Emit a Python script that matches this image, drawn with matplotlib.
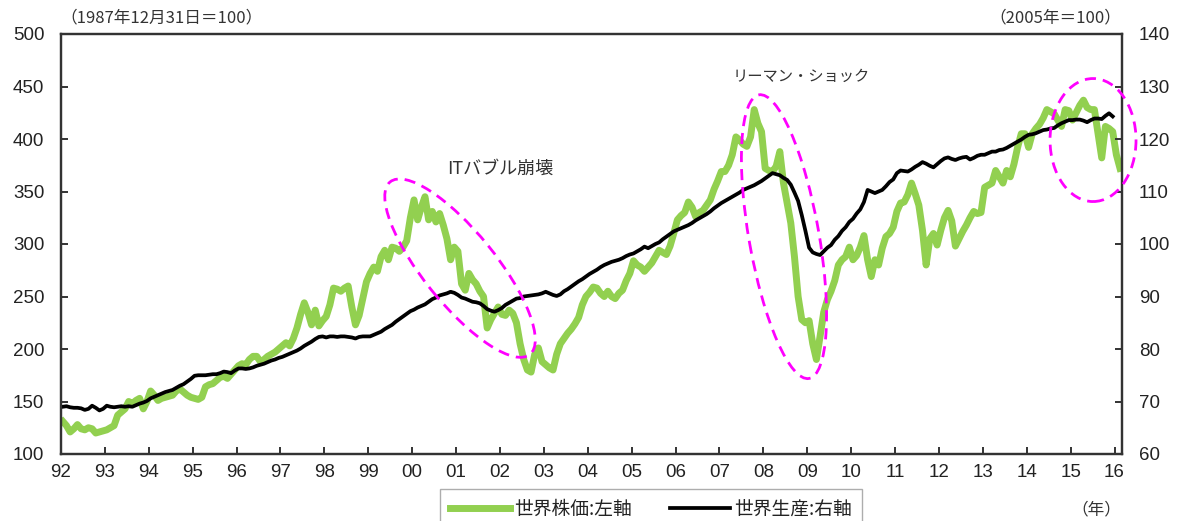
import numpy as np
import matplotlib
matplotlib.use("Agg")
import matplotlib.pyplot as plt
from matplotlib.patches import Ellipse
from matplotlib.transforms import IdentityTransform

plt.rcParams['font.family'] = ['Liberation Sans', 'Noto Sans CJK JP', 'DejaVu Sans']
JP = ['Noto Sans CJK JP', 'DejaVu Sans']

# World stock price index (1987/12/31 = 100), monthly from Jan 1992 -> left axis
stock = [
    131, 127, 121, 124, 128, 124, 123, 125, 124, 120, 121, 122,   # 1992
    123, 125, 127, 137, 140, 143, 150, 148, 151, 153, 143, 150,   # 1993
    160, 156, 151, 153, 154, 155, 156, 160, 162, 159, 156, 154,   # 1994
    153, 152, 154, 164, 166, 167, 170, 173, 174, 172, 176, 180,   # 1995
    184, 186, 185, 190, 193, 193, 188, 190, 193, 195, 197, 200,   # 1996
    203, 206, 203, 210, 220, 233, 244, 235, 223, 237, 222, 227,   # 1997
    231, 242, 258, 257, 255, 258, 260, 240, 223, 232, 248, 264,   # 1998
    272, 278, 274, 288, 294, 285, 297, 296, 293, 297, 303, 325,   # 1999
    342, 323, 335, 345, 323, 331, 321, 329, 318, 305, 285, 297,   # 2000
    293, 262, 256, 272, 266, 262, 255, 250, 220, 228, 234, 240,   # 2001
    233, 232, 237, 234, 225, 205, 190, 180, 178, 195, 201, 188,   # 2002
    185, 182, 180, 195, 205, 210, 215, 219, 224, 230, 242, 250,   # 2003
    254, 259, 258, 253, 250, 255, 250, 248, 253, 256, 265, 272,   # 2004
    284, 280, 278, 274, 278, 282, 288, 294, 292, 290, 298, 310,   # 2005
    323, 327, 330, 340, 335, 326, 330, 332, 337, 342, 352, 360,   # 2006
    369, 369, 375, 385, 402, 399, 395, 393, 402, 428, 415, 407,   # 2007
    372, 370, 369, 374, 388, 358, 339, 320, 288, 250, 228, 225,   # 2008
    227, 205, 190, 212, 235, 247, 255, 265, 280, 285, 288, 297,   # 2009
    285, 289, 297, 308, 285, 269, 285, 280, 296, 307, 310, 316,   # 2010
    331, 339, 340, 347, 358, 348, 337, 313, 280, 305, 310, 299,   # 2011
    313, 325, 332, 322, 298, 305, 312, 318, 325, 331, 329, 330,   # 2012
    354, 356, 358, 370, 364, 358, 370, 364, 376, 392, 405, 405,   # 2013
    392, 405, 410, 414, 420, 428, 426, 424, 418, 412, 428, 427,   # 2014
    418, 425, 432, 437, 430, 428, 428, 405, 382, 412, 410, 407,   # 2015
    385, 372,                                                     # 2016
]

# World industrial production (2005 = 100), monthly from Jan 1992 -> right axis
production = [
    69.0, 69.1, 68.9, 68.8, 68.8, 68.7, 68.4, 68.6, 69.2, 68.8, 68.3, 68.6,   # 1992
    69.2, 69.0, 68.9, 69.0, 69.1, 69.0, 69.1, 69.0, 69.3, 69.6, 69.8, 70.1,   # 1993
    70.6, 70.9, 71.2, 71.5, 71.8, 72.0, 72.2, 72.6, 73.0, 73.3, 73.8, 74.3,   # 1994
    74.9, 75.0, 75.0, 75.0, 75.1, 75.2, 75.2, 75.4, 75.7, 75.6, 75.4, 75.9,   # 1995
    76.3, 76.3, 76.2, 76.3, 76.5, 76.8, 77.0, 77.2, 77.5, 77.8, 78.0, 78.3,   # 1996
    78.5, 78.8, 79.1, 79.4, 79.7, 80.1, 80.6, 81.0, 81.4, 81.9, 82.3, 82.4,   # 1997
    82.2, 82.4, 82.4, 82.3, 82.4, 82.4, 82.3, 82.2, 82.0, 82.3, 82.4, 82.4,   # 1998
    82.4, 82.7, 83.0, 83.3, 83.8, 84.2, 84.6, 85.2, 85.7, 86.2, 86.7, 87.2,   # 1999
    87.5, 87.9, 88.2, 88.5, 89.0, 89.5, 89.8, 90.2, 90.4, 90.6, 90.9, 90.7,   # 2000
    90.3, 89.8, 89.6, 89.3, 89.0, 88.9, 88.7, 88.2, 87.6, 87.3, 87.1, 87.4,   # 2001
    87.8, 88.4, 88.8, 89.2, 89.6, 89.7, 90.0, 90.1, 90.2, 90.3, 90.4, 90.6,   # 2002
    90.9, 90.6, 90.3, 90.1, 90.4, 91.0, 91.4, 91.9, 92.4, 92.9, 93.3, 93.8,   # 2003
    94.3, 94.7, 95.1, 95.6, 96.0, 96.3, 96.6, 96.8, 97.0, 97.3, 97.7, 98.0,   # 2004
    98.2, 98.6, 99.0, 99.5, 99.2, 99.6, 100.0, 100.3, 100.9, 101.4, 101.9, 102.4,   # 2005
    102.7, 103.0, 103.3, 103.6, 104.0, 104.5, 104.9, 105.3, 105.7, 106.2, 106.8, 107.3,   # 2006
    107.8, 108.2, 108.6, 109.0, 109.4, 109.8, 110.3, 110.6, 110.9, 111.2, 111.6, 112.0,   # 2007
    112.5, 113.0, 113.5, 113.3, 113.1, 112.6, 112.2, 111.3, 109.8, 108.2, 105.5, 102.5,   # 2008
    99.3, 98.4, 98.1, 97.9, 98.6, 99.3, 99.8, 100.8, 101.5, 102.5, 103.2, 104.2,   # 2009
    104.8, 105.8, 106.6, 108.0, 110.3, 110.0, 109.7, 110.0, 110.3, 111.0, 111.8, 112.3,   # 2010
    113.5, 114.0, 113.9, 113.8, 114.2, 114.7, 115.1, 115.6, 115.3, 114.9, 114.6, 115.2,   # 2011
    115.8, 116.3, 116.5, 116.2, 116.0, 116.3, 116.5, 116.6, 116.1, 116.4, 116.8, 117.0,   # 2012
    117.0, 117.3, 117.6, 117.6, 117.9, 118.0, 118.3, 118.7, 119.1, 119.5, 119.9, 120.4,   # 2013
    120.8, 120.9, 121.1, 121.4, 121.7, 121.8, 122.0, 122.1, 122.6, 123.0, 123.3, 123.6,   # 2014
    123.6, 123.7, 123.7, 123.5, 123.2, 123.6, 123.9, 123.9, 123.8, 124.4, 124.9, 124.3,   # 2015
]

years = list(range(1992, 2017))
year_labels = [f"{y % 100:02d}" for y in years]

x_stock = 1992 + (np.arange(len(stock)) + 0.5) / 12
x_prod = 1992 + (np.arange(len(production)) + 0.5) / 12

green = "#92D050"
dark = "#333333"

fig = plt.figure(figsize=(11.79, 5.21), dpi=100)
ax = fig.add_axes([61 / 1179, 1 - 454 / 521, (1122 - 61) / 1179, (454 - 34) / 521])
ax2 = ax.twinx()

l1, = ax.plot(x_stock, stock, color=green, lw=5, solid_joinstyle="round",
              label="世界株価:左軸")
l2, = ax2.plot(x_prod, production, color="black", lw=2.7, label="世界生産:右軸")

ax.set_xlim(1992, 2016.17)
ax.set_ylim(100, 500)
ax2.set_ylim(60, 140)
ax.set_yticks(range(100, 501, 50))
ax2.set_yticks(range(60, 141, 10))
ax.set_xticks(years)
ax.set_xticklabels(year_labels)

for a in (ax, ax2):
    for s in a.spines.values():
        s.set_color(dark)
        s.set_linewidth(1.6)
ax.tick_params(axis="both", direction="in", length=5, width=1.4, color=dark,
               labelsize=13.5, labelcolor="#222222")
ax.tick_params(axis="x", pad=7)
ax.tick_params(axis="y", pad=12)
ax2.tick_params(axis="y", direction="in", length=5, width=1.4, color=dark,
                labelsize=13.5, labelcolor="#222222", pad=12)

# unit notes
fig.text(60 / 1179, 1 - 18 / 521, "（1987年12月31日＝100）", family=JP, fontsize=12,
         color=dark, va="center", ha="left")
fig.text(1121 / 1179, 1 - 18 / 521, "（2005年＝100）", family=JP, fontsize=12,
         color=dark, va="center", ha="right")
fig.text(1121 / 1179, 1 - 510 / 521, "（年）", family=JP, fontsize=12,
         color=dark, va="center", ha="right")

# event labels
ax.text(2002.0, 372, "ITバブル崩壊", family=JP, fontsize=13, color=dark, ha="center", va="center")
ax.text(2008.86, 460, "リーマン・ショック", family=JP, fontsize=11, color=dark, ha="center", va="center")

# dashed highlight ellipses (centre in data coords, size in pixels)
ellipses = [
    ((2001.09, 277), 222, 72, -51),
    ((2008.47, 307), 288, 70, -80),
    ((2015.51, 399), 86, 123, 0),
]
for (cx, cy), w, h, ang in ellipses:
    px, py = ax.transData.transform((cx, cy))
    e = Ellipse((px, py), w, h, angle=ang, transform=IdentityTransform(),
                fill=False, ec="#FF00FF", lw=2, ls=(0, (4, 2.5)), clip_on=False, zorder=5)
    fig.add_artist(e)

leg = fig.legend(handles=[l1, l2], loc="upper center", bbox_to_anchor=(651 / 1179, 1 - 489 / 521),
                 ncol=2, frameon=True, fancybox=False, edgecolor="#999999",
                 prop={"family": JP, "size": 13.5}, handlelength=3.2, columnspacing=2.0,
                 handletextpad=0.25, borderpad=0.5, borderaxespad=0)
leg.get_frame().set_linewidth(1.0)
for t in leg.get_texts():
    t.set_color("#222222")

fig.savefig("out.png", dpi=100)
